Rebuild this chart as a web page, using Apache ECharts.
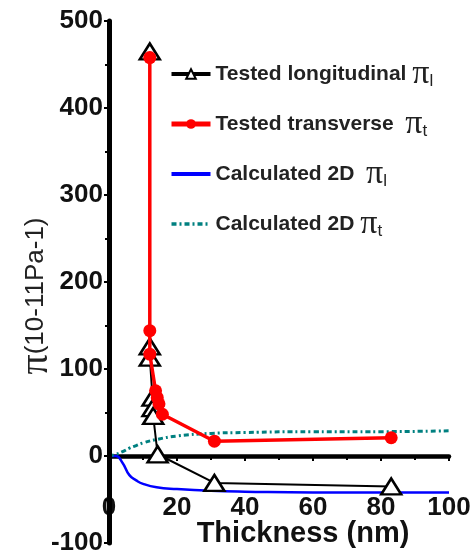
<!DOCTYPE html>
<html><head><meta charset="utf-8">
<script src="https://cdn.jsdelivr.net/npm/echarts@6/dist/echarts.min.js"></script>
<style>html,body{margin:0;padding:0;background:#fff}#c{width:475px;height:554px}</style>
</head><body><div id="c"></div>
<script>
const xTicks = [0, 20, 40, 60, 80, 100];
const yTicks = [-100, 0, 100, 200, 300, 400, 500];
const longX = [12, 12, 12, 12.8, 12.8, 13, 14.3, 31, 83];
const longY = [465, 126, 113, 67, 55, 46, 2, -31, -35];
const transX = [12, 12, 12, 13.7, 14.2, 14.7, 15.7, 31, 83];
const transY = [458, 144, 117, 75, 67, 60, 48, 17, 21];
const calcX = [0, 2, 4, 6, 8, 10, 14, 20, 30, 40, 60, 80, 100];
const calcLY = [0, 0, -8, -22, -28, -32, -36, -38, -40, -41, -42, -42, -42];
const calcTY = [0, 2, 5, 9, 12, 15, 19, 23, 26, 27, 28, 28, 29];
const names = ['Tested longitudinal', 'Tested transverse', 'Calculated 2D l', 'Calculated 2D t'];

const pairs = (xs, ys) => xs.map((x, i) => [x, ys[i]]);
const chart = echarts.init(document.getElementById('c'));
const lblFont = {fontFamily: 'Liberation Sans', fontWeight: 'bold', fontSize: 26, color: '#111'};
const legendMap = {
  'Tested longitudinal': '{a|Tested longitudinal }{p|π}{s|l}',
  'Tested transverse': '{a|Tested transverse  }{p|π}{s|t}',
  'Calculated 2D l': '{a|Calculated 2D  }{p|π}{s|l}',
  'Calculated 2D t': '{a|Calculated 2D }{p|π}{s|t}'
};
chart.setOption({
  animation: false,
  grid: {left: 109, right: 26, top: 21, bottom: 11, containLabel: false, outerBoundsMode: 'none'},
  legend: {
    orient: 'vertical', left: 164, top: 52, itemWidth: 39, itemHeight: 12, itemGap: 16,
    data: [
      {name: names[0], lineStyle: {width: 4}},
      {name: names[1], lineStyle: {width: 5}},
      {name: names[2], itemStyle: {opacity: 0}, lineStyle: {width: 4}},
      {name: names[3], itemStyle: {opacity: 0}, lineStyle: {width: 3.5}}
    ],
    formatter: n => legendMap[n],
    textStyle: {
      rich: {
        a: {fontFamily: 'Liberation Sans', fontWeight: 'bold', fontSize: 21, color: '#222', lineHeight: 30},
        p: {fontFamily: 'Liberation Serif', fontSize: 34, color: '#222', lineHeight: 30},
        s: {fontFamily: 'Liberation Sans', fontSize: 17, color: '#222', lineHeight: 30, padding: [14, 0, 0, 0]}
      }
    }
  },
  xAxis: {
    type: 'value', min: 0, max: 100, interval: 20,
    axisLine: {onZero: true, lineStyle: {color: '#000', width: 4.5}},
    axisTick: {show: true, inside: false, length: 5, lineStyle: {color: '#000', width: 2}},
    minorTick: {show: true, splitNumber: 2, length: 4, lineStyle: {color: '#000', width: 2}},
    splitLine: {show: false},
    axisLabel: Object.assign({margin: -48, formatter: v => xTicks.includes(v) ? String(v) : ''}, lblFont),
    name: 'Thickness (nm)', nameLocation: 'middle', nameGap: -24, nameMoveOverlap: false,
    nameTextStyle: {fontFamily: 'Liberation Sans', fontWeight: 'bold', fontSize: 29, color: '#111', padding: [0, 0, 0, 48]}
  },
  yAxis: {
    type: 'value', min: -100, max: 500, interval: 100, z: 3,
    axisLine: {lineStyle: {color: '#000', width: 5}},
    axisTick: {show: true, length: 5, lineStyle: {color: '#000', width: 2}},
    minorTick: {show: true, splitNumber: 2, length: 4, lineStyle: {color: '#000', width: 2}},
    splitLine: {show: false},
    axisLabel: Object.assign({margin: 6, formatter: v => yTicks.includes(v) ? String(v) : ''}, lblFont),
    name: '{p|π}{a|(10-11Pa-1)}', nameLocation: 'middle', nameGap: 53, nameMoveOverlap: false,
    nameTextStyle: {
      padding: [0, 28, 0, 0],
      rich: {
        p: {fontFamily: 'Liberation Serif', fontSize: 40, color: '#222'},
        a: {fontFamily: 'Liberation Sans', fontSize: 26, color: '#222'}
      }
    }
  },
  series: [
    {name: names[2], type: 'line', smooth: true, showSymbol: false, symbol: 'none',
     data: pairs(calcX, calcLY), lineStyle: {color: '#0000ff', width: 2.5}, itemStyle: {color: '#0000ff'}, z: 2},
    {name: names[3], type: 'line', smooth: true, showSymbol: false, symbol: 'none',
     data: pairs(calcX, calcTY), lineStyle: {color: '#008080', width: 3, type: [5, 3, 2, 3]}, itemStyle: {color: '#008080'}, z: 2},
    {name: names[0], type: 'line', symbol: 'triangle', symbolSize: [20, 16],
     data: pairs(longX, longY), lineStyle: {color: '#000', width: 2},
     itemStyle: {color: '#fff', borderColor: '#000', borderWidth: 2.5}, z: 3},
    {name: names[1], type: 'line', symbol: 'circle', symbolSize: 13,
     data: pairs(transX, transY), lineStyle: {color: '#ff0000', width: 3.5},
     itemStyle: {color: '#ff0000'}, z: 4}
  ]
});
</script></body></html>
